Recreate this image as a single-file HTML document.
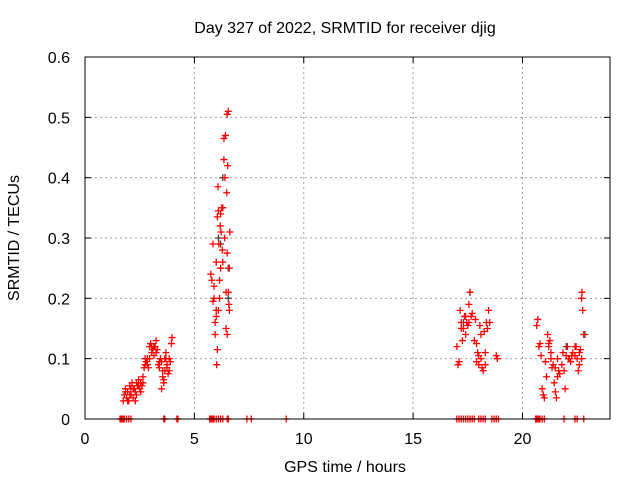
<!DOCTYPE html>
<html><head><meta charset="utf-8"><style>
html,body{margin:0;padding:0;background:#fff;}
svg text{font-family:"Liberation Sans",sans-serif;fill:#000;}
</style></head><body>
<svg id="chart" width="640" height="480" viewBox="0 0 640 480" xmlns="http://www.w3.org/2000/svg">
<rect x="0" y="0" width="640" height="480" fill="#fff"/>
<text x="345" y="33" font-size="16" text-anchor="middle">Day 327 of 2022, SRMTID for receiver djig</text>
<text x="345" y="472" font-size="16" text-anchor="middle">GPS time / hours</text>
<text transform="translate(19,238) rotate(-90)" font-size="16" text-anchor="middle">SRMTID / TECUs</text>
<g id="grid"></g>
<g id="axes"></g>
<g id="series-black"></g>
<g id="series-red"></g>
<rect x="85" y="57" width="525" height="362" fill="none" stroke="#000" stroke-width="1"/>
</svg>
<script>
const xTicks=[0,5,10,15,20];
const yTicks=[0,0.1,0.2,0.3,0.4,0.5,0.6];
const yTickLabels=["0","0.1","0.2","0.3","0.4","0.5","0.6"];
const redX=[1.75,1.8,1.85,1.9,1.95,2.0,2.05,2.1,2.15,2.2,2.25,2.3,2.35,2.4,2.45,2.5,2.55,2.6,2.65,2.7,2.75,2.8,2.85,2.9,2.95,3.0,3.05,3.1,3.15,3.2,3.25,3.3,3.35,3.4,3.45,3.5,3.55,3.6,3.65,3.7,3.75,3.8,3.85,3.9,3.95,3.98,3.5,3.6,3.7,2.3,2.1,
1.85,1.95,2.05,2.2,2.35,2.45,2.55,2.65,2.75,2.85,2.95,3.05,3.15,3.25,3.4,3.55,3.65,3.75,3.85,
5.75,5.8,5.85,5.9,5.95,5.95,6.0,6.0,6.02,6.05,6.05,6.08,6.1,6.12,6.15,6.15,6.18,6.2,6.22,6.25,6.28,6.3,6.3,6.35,6.35,6.38,6.4,6.42,6.45,6.45,6.48,6.5,6.5,6.52,6.55,6.55,6.58,6.6,6.6,6.62,5.85,5.9,6.0,6.1,6.5,6.2,
17.0,17.05,17.1,17.15,17.2,17.25,17.3,17.35,17.4,17.45,17.5,17.55,17.6,17.65,17.7,17.8,17.85,17.9,17.95,18.0,18.05,18.1,18.15,18.2,18.25,18.3,18.35,18.4,18.45,18.5,18.8,18.85,17.9,18.0,
17.2,17.4,17.55,18.1,18.3,
20.65,20.7,20.75,20.8,20.85,20.9,20.95,21.0,21.05,21.1,21.15,21.2,21.25,21.3,21.35,21.4,21.45,21.5,21.55,21.6,21.65,21.7,21.8,21.85,21.9,21.95,22.0,22.05,22.1,22.2,22.3,22.4,22.5,22.55,22.6,22.65,22.7,22.72,22.75,22.8,22.6,22.4,
21.2,21.3,21.5,21.6,22.15,22.25,22.45,22.7];
const redY=[0.03,0.04,0.05,0.035,0.045,0.03,0.055,0.04,0.06,0.035,0.05,0.045,0.06,0.055,0.065,0.05,0.06,0.055,0.07,0.085,0.09,0.095,0.1,0.085,0.12,0.125,0.11,0.115,0.105,0.12,0.13,0.115,0.09,0.085,0.1,0.095,0.07,0.06,0.08,0.11,0.09,0.075,0.1,0.095,0.125,0.135,0.05,0.065,0.1,0.03,0.05,
0.045,0.03,0.04,0.05,0.04,0.055,0.045,0.06,0.1,0.09,0.1,0.12,0.12,0.11,0.095,0.08,0.1,0.085,0.08,
0.24,0.23,0.29,0.2,0.16,0.14,0.26,0.18,0.09,0.115,0.335,0.385,0.345,0.29,0.23,0.2,0.32,0.34,0.31,0.35,0.28,0.26,0.35,0.43,0.465,0.3,0.4,0.47,0.21,0.15,0.375,0.505,0.275,0.42,0.51,0.21,0.19,0.18,0.25,0.31,0.195,0.22,0.17,0.18,0.14,0.25,
0.12,0.09,0.095,0.18,0.16,0.13,0.15,0.17,0.14,0.16,0.155,0.19,0.21,0.17,0.175,0.13,0.165,0.095,0.11,0.09,0.155,0.14,0.085,0.08,0.145,0.11,0.16,0.15,0.18,0.16,0.105,0.1,0.125,0.105,
0.15,0.17,0.16,0.1,0.09,
0.155,0.165,0.12,0.125,0.105,0.05,0.04,0.035,0.095,0.07,0.14,0.12,0.13,0.11,0.085,0.09,0.06,0.045,0.035,0.1,0.08,0.075,0.09,0.11,0.08,0.05,0.105,0.12,0.1,0.095,0.11,0.12,0.1,0.08,0.09,0.115,0.2,0.21,0.18,0.14,0.11,0.105,
0.125,0.1,0.085,0.07,0.1,0.105,0.12,0.1];
const zeroX=[1.6,1.65,1.7,1.75,1.8,1.9,2.0,2.1,3.6,3.65,4.2,4.25,5.7,5.75,5.8,5.85,5.9,6.0,6.1,6.2,6.3,6.5,6.55,7.4,7.6,9.2,17.0,17.1,17.2,17.3,17.4,17.5,17.6,17.7,17.8,18.0,18.1,18.2,18.3,18.6,18.7,18.8,18.9,20.6,20.65,20.7,20.75,20.8,20.9,21.0,21.9,22.4,22.5,22.8];
const blackX=[6.2,6.3,6.55,6.55,17.6,17.3,22.85,22.0,3.2,6.1];
const blackY=[0.29,0.4,0.25,0.2,0.21,0.16,0.14,0.12,0.12,0.3];

const NS="http://www.w3.org/2000/svg";
const X0=85,X1=610,Y0=419,Y1=57,XMAX=24,YMAX=0.6;
function sx(v){return X0+(X1-X0)*v/XMAX;}
function sy(v){return Y0-(Y0-Y1)*v/YMAX;}
function mk(tag,attrs,parent){const e=document.createElementNS(NS,tag);for(const k in attrs)e.setAttribute(k,attrs[k]);parent.appendChild(e);return e;}
const grid=document.getElementById('grid'),axes=document.getElementById('axes');
xTicks.forEach((t,i)=>{
  const x=sx(t);
  if(t>0){const g=mk('line',{x1:x,y1:Y0,x2:x,y2:Y1,stroke:'#a0a0a0','stroke-dasharray':'2,3'},grid);
  
  }
  const a=mk('line',{x1:x,y1:Y0,x2:x,y2:Y0-6,stroke:'#000'},axes);
  
  
  const b=mk('line',{x1:x,y1:Y1,x2:x,y2:Y1+6,stroke:'#000'},axes);
  
  
  const l=mk('text',{x:x,y:Y0+25,'font-size':16,'text-anchor':'middle'},axes);l.textContent=String(t);
  
  
});
yTicks.forEach((t,i)=>{
  const y=sy(t);
  if(t>0&&t<YMAX){const g=mk('line',{x1:X0,y1:y,x2:X1,y2:y,stroke:'#a0a0a0','stroke-dasharray':'2,3'},grid);
  
  }
  const a=mk('line',{x1:X0,y1:y,x2:X0+6,y2:y,stroke:'#000'},axes);
  
  
  const b=mk('line',{x1:X1,y1:y,x2:X1-6,y2:y,stroke:'#000'},axes);
  
  
  const l=mk('text',{x:X0-15,y:y+6,'font-size':16,'text-anchor':'end'},axes);l.textContent=yTickLabels[i];
  
  
});
function plus(parent,x,y,color,name){
  const p=mk('path',{d:`M${x-3.5},${y}h7M${x},${y-3.5}v7`,stroke:color,'stroke-width':1.3,fill:'none'},parent);
  
  
}
const gb=document.getElementById('series-black'),gr=document.getElementById('series-red');
blackX.forEach((v,i)=>plus(gb,sx(v),sy(blackY[i]),'#404040','black-point'));
redX.forEach((v,i)=>plus(gr,sx(v),sy(redY[i]),'#ff0000','red-point'));
zeroX.forEach(v=>plus(gr,sx(v),sy(0),'#ff0000','zero-point'));
</script>
</body></html>
